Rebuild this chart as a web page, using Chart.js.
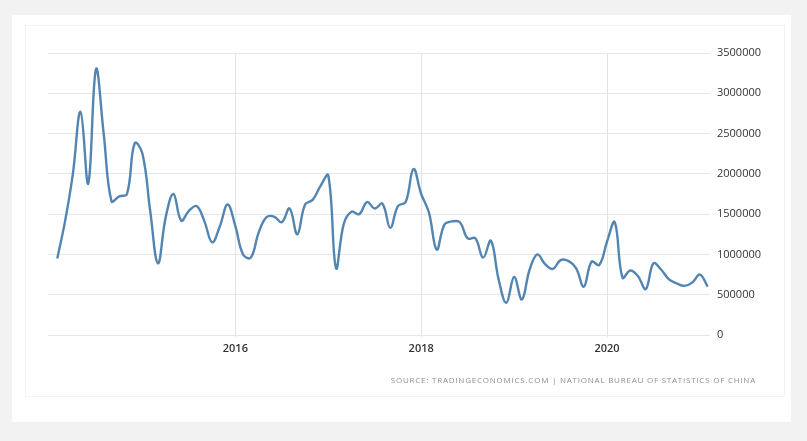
<!DOCTYPE html>
<html>
<head>
<meta charset="utf-8">
<script src="https://cdn.jsdelivr.net/npm/chart.js@4/dist/chart.umd.min.js"></script>
<style>
  html, body { margin: 0; padding: 0; background: #f2f2f2; }
  #wrap { position: relative; width: 807px; height: 441px; overflow: hidden; }
  #card { position: absolute; left: 12px; top: 15px; width: 779px; height: 407px; background: #fff; }
  #inner { position: absolute; left: 25px; top: 25px; width: 758px; height: 370px; border: 1px solid #f3f3f3; }
  #chart-box { position: absolute; left: 0; top: 0; width: 807px; height: 441px; }
  #source {
    position: absolute; right: 51px; top: 374px;
    font-family: "Open Sans", sans-serif; font-size: 8px; letter-spacing: 0.77px;
    color: #8e8e8e; white-space: nowrap;
  }
</style>
</head>
<body>
<div id="wrap">
  <div id="card"></div>
  <div id="inner"></div>
  <div id="chart-box"><canvas id="sales-chart"></canvas></div>
  <div id="source">SOURCE: TRADINGECONOMICS.COM | NATIONAL BUREAU OF STATISTICS OF CHINA</div>
</div>
<script>
//
// Data - monthly values, Feb 2014 to Feb 2021
//
const firstYear = 2014;
const firstMonth = 2;

const salesValues = [
    950000, 1410000, 1990000, 2770000, 1880000, 3300000, 2490000, 1660000, 1720000, 1750000, 2380000,
    2250000, 1540000, 890000, 1460000, 1750000, 1420000, 1540000, 1600000, 1410000, 1150000, 1350000, 1620000,
    1350000, 1000000, 960000, 1270000, 1460000, 1470000, 1400000, 1570000, 1250000, 1620000, 1680000, 1850000,
    1980000, 830000, 1380000, 1530000, 1500000, 1650000, 1570000, 1630000, 1330000, 1600000, 1650000, 2060000,
    1750000, 1520000, 1060000, 1370000, 1410000, 1400000, 1200000, 1200000, 960000, 1170000, 690000, 400000,
    720000, 440000, 810000, 1000000, 880000, 820000, 930000, 920000, 830000, 600000, 910000, 870000,
    1160000, 1400000, 710000, 800000, 730000, 570000, 890000, 810000, 690000, 640000, 610000, 650000, 750000,
    600000
];

const yearTicks = ['2016', '2018', '2020'];
const yMax = 3500000;
const yStep = 500000;

// month labels like '2014-02'
const monthLabels = [];
for (let i = 0; i < salesValues.length; i++) {
    const m = firstMonth - 1 + i;
    const y = firstYear + Math.floor(m / 12);
    const mm = (m % 12) + 1;
    monthLabels.push(y + '-' + (mm < 10 ? '0' + mm : mm));
}

// months counted from Jan of the first year
function monthIndex(label) {
    const parts = label.split('-');
    return (parseInt(parts[0]) - firstYear) * 12 + parseInt(parts[1]) - 1;
}

const points = monthLabels.map((label, i) => ({ x: monthIndex(label), y: salesValues[i] }));
const tickPositions = yearTicks.map(t => monthIndex(t + '-01'));

const salesCanvas = document.getElementById('sales-chart');

let salesChart = new Chart(salesCanvas, {
    type: 'line',
    data: {
        datasets: [{
            data: points,
            borderColor: '#5385b2',
            borderWidth: 2.4,
            tension: 0.4,
            pointRadius: 0,
            fill: false
        }]
    },
    options: {
        responsive: true,
        maintainAspectRatio: false,
        animation: false,
        layout: {
            padding: { left: 48, top: 53, right: 0, bottom: 0 }
        },
        scales: {
            x: {
                type: 'linear',
                min: -0.2,
                max: 85.3,
                afterBuildTicks: (scale) => {
                    scale.ticks = tickPositions.map(v => ({ value: v }));
                },
                afterFit: (scale) => { scale.height = 106; },
                border: { display: false },
                grid: { color: '#e3e3e3', lineWidth: 1, drawTicks: true, tickLength: 2 },
                ticks: {
                    autoSkip: false,
                    maxRotation: 0,
                    padding: 5,
                    color: '#333',
                    font: { family: 'Open Sans', size: 11, weight: '600' },
                    callback: (value) => yearTicks[tickPositions.indexOf(value)]
                }
            },
            y: {
                position: 'right',
                min: 0,
                max: yMax,
                afterFit: (scale) => { scale.width = 97; },
                border: { display: false },
                grid: { color: '#e6e6e6', lineWidth: 1, drawTicks: false },
                ticks: {
                    stepSize: yStep,
                    padding: 7,
                    color: '#333',
                    font: { family: 'Open Sans', size: 11 },
                    callback: (value) => String(value)
                }
            }
        },
        plugins: {
            legend: { display: false },
            tooltip: { enabled: false }
        }
    }
});
</script>
</body>
</html>
